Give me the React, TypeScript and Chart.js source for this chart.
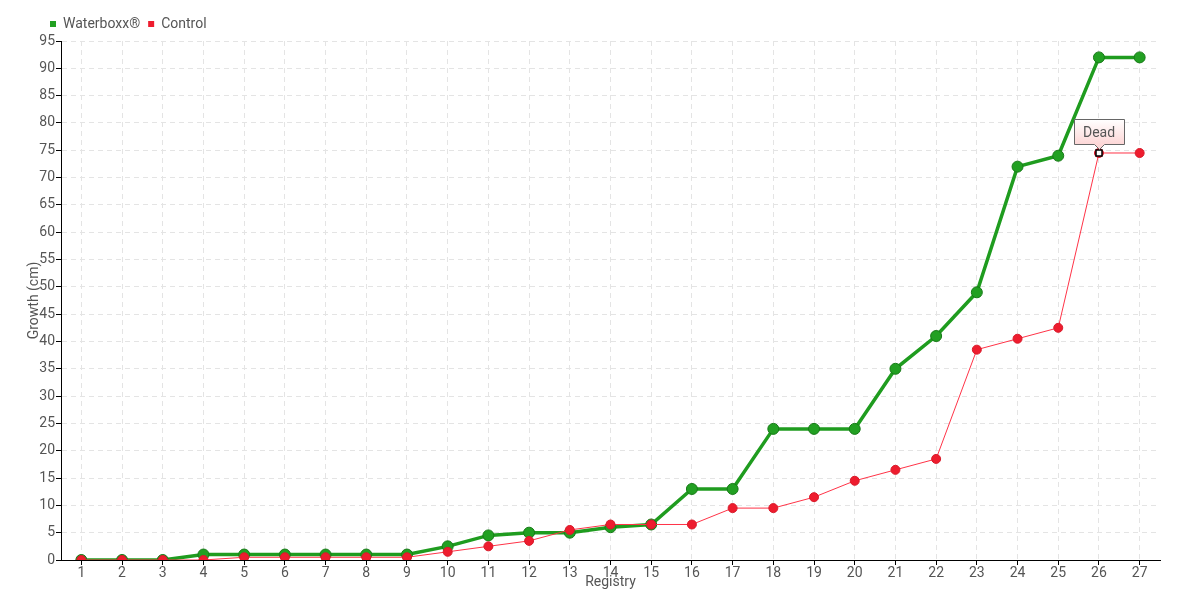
import React, { useEffect, useRef } from "react";
import { Chart, registerables } from "chart.js";

Chart.register(...registerables);

const registry = ["1","2","3","4","5","6","7","8","9","10","11","12","13","14","15","16","17","18","19","20","21","22","23","24","25","26","27"];
const waterboxx = [0,0,0,1,1,1,1,1,1,2.5,4.5,5,5,6,6.5,13,13,24,24,24,35,41,49,72,74,92,92];
const control = [0,0,0,0,0.5,0.5,0.5,0.5,0.5,1.5,2.5,3.5,5.5,6.5,6.5,6.5,9.5,9.5,11.5,14.5,16.5,18.5,38.5,40.5,42.5,74.5,74.5];
const annotationIndex = 25;
const annotationText = "Dead";

const FONT = "Roboto, 'DejaVu Sans Condensed', sans-serif";
const TEXT = "#555555";

const legendShift = {
  id: "legendShift",
  afterLayout(chart: any) {
    const lg = chart.legend;
    if (lg) {
      lg.left += 42;
      lg.right += 42;
    }
  },
};

const deadNote = {
  id: "deadNote",
  afterDatasetsDraw(chart: any) {
    const meta = chart.getDatasetMeta(1);
    const pt = meta.data[annotationIndex];
    if (!pt) return;
    const ctx = chart.ctx;
    const x = Math.round(pt.x);
    const y = Math.round(pt.y);
    ctx.save();
    ctx.fillStyle = "#ffffff";
    ctx.strokeStyle = "#000000";
    ctx.lineWidth = 1.5;
    ctx.fillRect(x - 3, y - 3, 6, 6);
    ctx.strokeRect(x - 3, y - 3, 6, 6);
    const w = 50, h = 25;
    const bx = x - w / 2 + 0.5;
    const by = y - 9 - h + 0.5;
    const grad = ctx.createLinearGradient(0, by, 0, by + h);
    grad.addColorStop(0, "#ffffff");
    grad.addColorStop(1, "#fdd6d6");
    ctx.beginPath();
    ctx.moveTo(bx, by);
    ctx.lineTo(bx + w, by);
    ctx.lineTo(bx + w, by + h);
    ctx.lineTo(x + 5.5, by + h);
    ctx.lineTo(x + 0.5, by + h + 5);
    ctx.lineTo(x - 4.5, by + h);
    ctx.lineTo(bx, by + h);
    ctx.closePath();
    ctx.fillStyle = grad;
    ctx.fill();
    ctx.strokeStyle = "#666666";
    ctx.lineWidth = 1;
    ctx.stroke();
    ctx.fillStyle = TEXT;
    ctx.font = `14px ${FONT}`;
    ctx.textAlign = "center";
    ctx.textBaseline = "middle";
    ctx.fillText(annotationText, x, by + h / 2 + 1);
    ctx.restore();
  },
};

export default function App() {
  const ref = useRef<HTMLCanvasElement>(null);
  useEffect(() => {
    document.body.style.margin = "0";
    const chart = new Chart(ref.current as HTMLCanvasElement, {
      type: "line",
      data: {
        labels: registry,
        datasets: [
          {
            label: "Waterboxx®",
            data: waterboxx,
            borderColor: "#1f9c1f",
            backgroundColor: "#22a022",
            borderWidth: 3.5,
            pointRadius: 5.5,
            pointBackgroundColor: "#22a022",
            pointBorderColor: "#177a17",
            pointBorderWidth: 1,
            tension: 0,
            order: 1,
          },
          {
            label: "Control",
            data: control,
            borderColor: "#ff3347",
            backgroundColor: "#ee1c2e",
            borderWidth: 1,
            pointRadius: 4.5,
            pointBackgroundColor: "#ee1c2e",
            pointBorderColor: "#d81a2a",
            pointBorderWidth: 1,
            tension: 0,
            order: 0,
          },
        ],
      },
      options: {
        animation: false,
        responsive: false,
        maintainAspectRatio: false,
        layout: { padding: { left: 0, right: 20, top: 9, bottom: 0 } },
        plugins: {
          legend: {
            position: "top",
            align: "start",
            labels: {
              font: { family: FONT, size: 14 },
              color: TEXT,
              boxWidth: 6,
              boxHeight: 6,
              padding: 8,
              sort: (a: any, b: any) => a.datasetIndex - b.datasetIndex,
              generateLabels: (chart: any) =>
                chart.data.datasets.map((ds: any, i: number) => ({
                  text: ds.label,
                  fillStyle: ds.backgroundColor,
                  strokeStyle: ds.backgroundColor,
                  lineWidth: 0,
                  fontColor: TEXT,
                  hidden: !chart.isDatasetVisible(i),
                  datasetIndex: i,
                })),
            },
          },
          tooltip: { enabled: false },
        },
        scales: {
          x: {
            offset: true,
            grid: {
              offset: false,
              color: "#e4e4e4",
              tickColor: "#000000",
              tickLength: 5,
              tickBorderDash: [],
              drawOnChartArea: true,
            },
            border: { color: "#000000", width: 1, dash: [5, 4] },
            ticks: {
              font: { family: FONT, size: 14 },
              color: TEXT,
              padding: 0,
              maxRotation: 0,
              autoSkip: false,
            },
            title: {
              display: true,
              text: "Registry",
              font: { family: FONT, size: 14 },
              color: TEXT,
              padding: { top: 0, bottom: 9 },
            },
            afterFit: (s: any) => { s.height = 40; },
          },
          y: {
            min: 0,
            max: 95,
            grid: {
              color: "#e4e4e4",
              tickColor: "#000000",
              tickLength: 5,
              tickBorderDash: [],
            },
            border: { color: "#000000", width: 1, dash: [5, 4] },
            ticks: {
              stepSize: 5,
              font: { family: FONT, size: 14 },
              color: TEXT,
              padding: 1,
            },
            title: {
              display: true,
              text: "Growth (cm)",
              font: { family: FONT, size: 14 },
              color: TEXT,
              padding: { top: 26, bottom: 0 },
            },
            afterFit: (s: any) => { s.width = 61; },
          },
        },
      },
      plugins: [legendShift, deadNote],
    });
    return () => chart.destroy();
  }, []);
  return (
    <div style={{ position: "absolute", left: 0, top: 0, width: 1180, height: 600 }}>
      <canvas ref={ref} width={1180} height={600} />
    </div>
  );
}
